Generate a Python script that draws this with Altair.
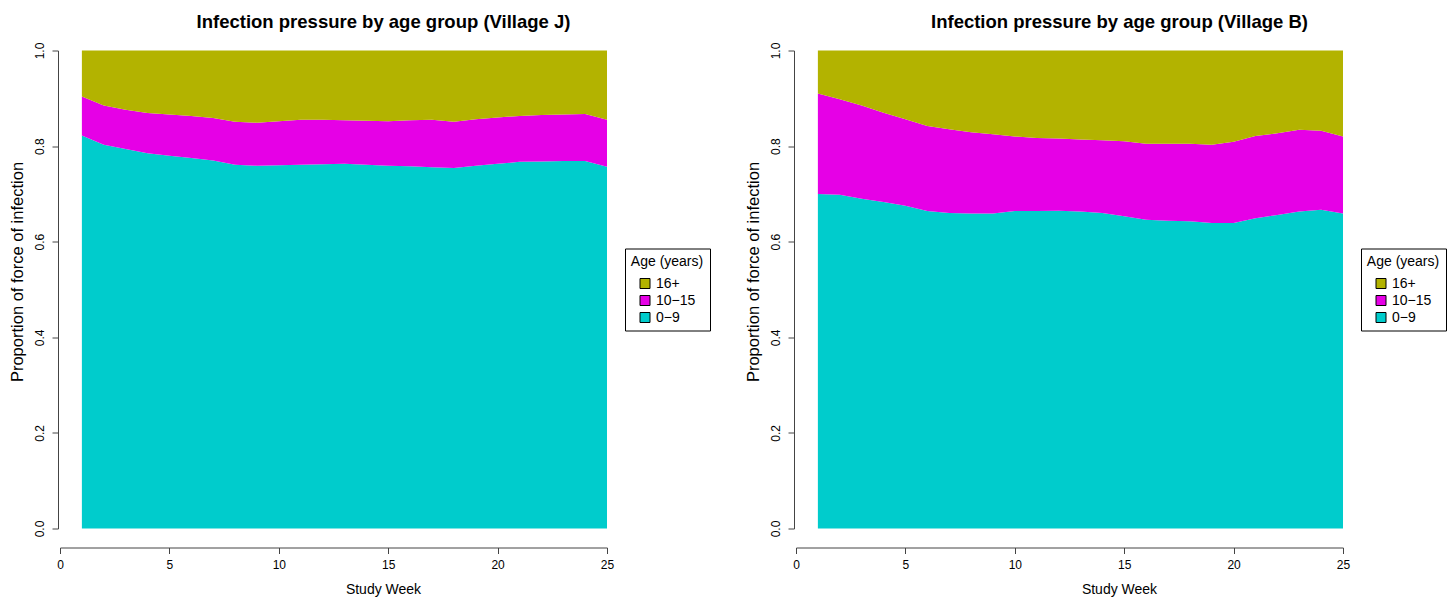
import altair as alt
import pandas as pd

weeks = list(range(1, 26))
age_groups = ["16+", "10−15", "0−9"]
colors = ["#B3B300", "#E600E6", "#00CCCC"]

# Village J proportions
j_0_9 = [0.822, 0.803, 0.794, 0.785, 0.780, 0.775, 0.770, 0.761, 0.759, 0.760, 0.761, 0.762, 0.763,
         0.761, 0.759, 0.758, 0.756, 0.754, 0.759, 0.763, 0.767, 0.768, 0.769, 0.769, 0.757]
j_10_15 = [0.082, 0.082, 0.082, 0.084, 0.086, 0.088, 0.089, 0.090, 0.090, 0.092, 0.094, 0.093, 0.091,
           0.092, 0.093, 0.096, 0.099, 0.097, 0.097, 0.097, 0.096, 0.097, 0.097, 0.098, 0.098]
j_16 = [0.096, 0.115, 0.124, 0.131, 0.134, 0.137, 0.141, 0.149, 0.151, 0.148, 0.145, 0.145, 0.146,
        0.147, 0.148, 0.146, 0.145, 0.149, 0.144, 0.140, 0.137, 0.135, 0.134, 0.133, 0.145]

# Village B proportions
b_0_9 = [0.700, 0.698, 0.690, 0.683, 0.675, 0.664, 0.660, 0.659, 0.659, 0.664, 0.664, 0.665, 0.663,
         0.660, 0.653, 0.646, 0.644, 0.643, 0.639, 0.639, 0.649, 0.656, 0.663, 0.667, 0.659]
b_10_15 = [0.210, 0.200, 0.195, 0.187, 0.181, 0.178, 0.175, 0.170, 0.166, 0.156, 0.153, 0.151, 0.151,
           0.152, 0.157, 0.159, 0.161, 0.162, 0.164, 0.170, 0.172, 0.171, 0.171, 0.165, 0.161]
b_16 = [0.090, 0.102, 0.115, 0.130, 0.144, 0.158, 0.165, 0.171, 0.175, 0.180, 0.183, 0.184, 0.186,
        0.188, 0.190, 0.195, 0.195, 0.195, 0.197, 0.191, 0.179, 0.173, 0.166, 0.168, 0.180]

x_ticks = [0, 5, 10, 15, 20, 25]
y_ticks = [0.0, 0.2, 0.4, 0.6, 0.8, 1.0]

FONT = "Liberation Sans"


def make_df(a, b, c):
    rows = []
    for i, w in enumerate(weeks):
        rows.append({"week": w, "age": "0−9", "rank": 0, "value": a[i]})
        rows.append({"week": w, "age": "10−15", "rank": 1, "value": b[i]})
        rows.append({"week": w, "age": "16+", "rank": 2, "value": c[i]})
    return pd.DataFrame(rows)


def panel(df, title):
    return alt.Chart(df).mark_area(interpolate="linear", opacity=1).encode(
        x=alt.X("week:Q", scale=alt.Scale(domain=[0, 25], nice=False, zero=False),
                axis=alt.Axis(title="Study Week", values=x_ticks, format="d", offset=19,
                              tickSize=6, labelPadding=6, titlePadding=12, grid=False,
                              labelFlush=False, titleX=323)),
        y=alt.Y("value:Q", stack="zero", scale=alt.Scale(domain=[0, 1], nice=False),
                axis=alt.Axis(title="Proportion of force of infection", values=y_ticks, format=".1f",
                              offset=2, tickSize=6, labelAngle=270, labelAlign="center",
                              labelBaseline="bottom", labelPadding=6, titlePadding=7.5, grid=False,
                              labelFlush=False, titleFontSize=16.5, titleY=221)),
        color=alt.Color("age:N", scale=alt.Scale(domain=age_groups, range=colors),
                        legend=alt.Legend(title="Age (years)", orient="none", legendX=565, legendY=198,
                                          strokeColor="black", fillColor="white", padding=6,
                                          symbolType="square", symbolSize=100, symbolStrokeColor="black",
                                          symbolStrokeWidth=1, symbolOpacity=1, labelFontSize=14,
                                          titleFontSize=14, titleFontWeight="normal", titleAnchor="middle",
                                          rowPadding=3, labelFont=FONT, titleFont=FONT,
                                          labelColor="black", titleColor="black", titlePadding=8)),
        order=alt.Order("rank:Q", sort="ascending"),
    ).properties(
        width=547, height=478,
        title=alt.TitleParams(title, fontSize=18.5, font=FONT, fontWeight="bold", anchor="middle",
                              dx=50, offset=11, frame="group", color="black"),
    )


left = panel(make_df(j_0_9, j_10_15, j_16), "Infection pressure by age group (Village J)")
right = panel(make_df(b_0_9, b_10_15, b_16), "Infection pressure by age group (Village B)")

chart = alt.hconcat(left, right, spacing=34).resolve_legend(color="independent").properties(
    padding={"left": 1, "top": 4.5, "right": 0, "bottom": 0}
).configure_view(stroke=None).configure_axis(
    labelFont=FONT, titleFont=FONT, labelFontSize=12, titleFontSize=14, titleFontWeight="normal",
    labelColor="black", titleColor="black", domainColor="#444444", tickColor="#444444",
)

chart.save("out.html", embed_options={"renderer": "svg", "actions": False})
